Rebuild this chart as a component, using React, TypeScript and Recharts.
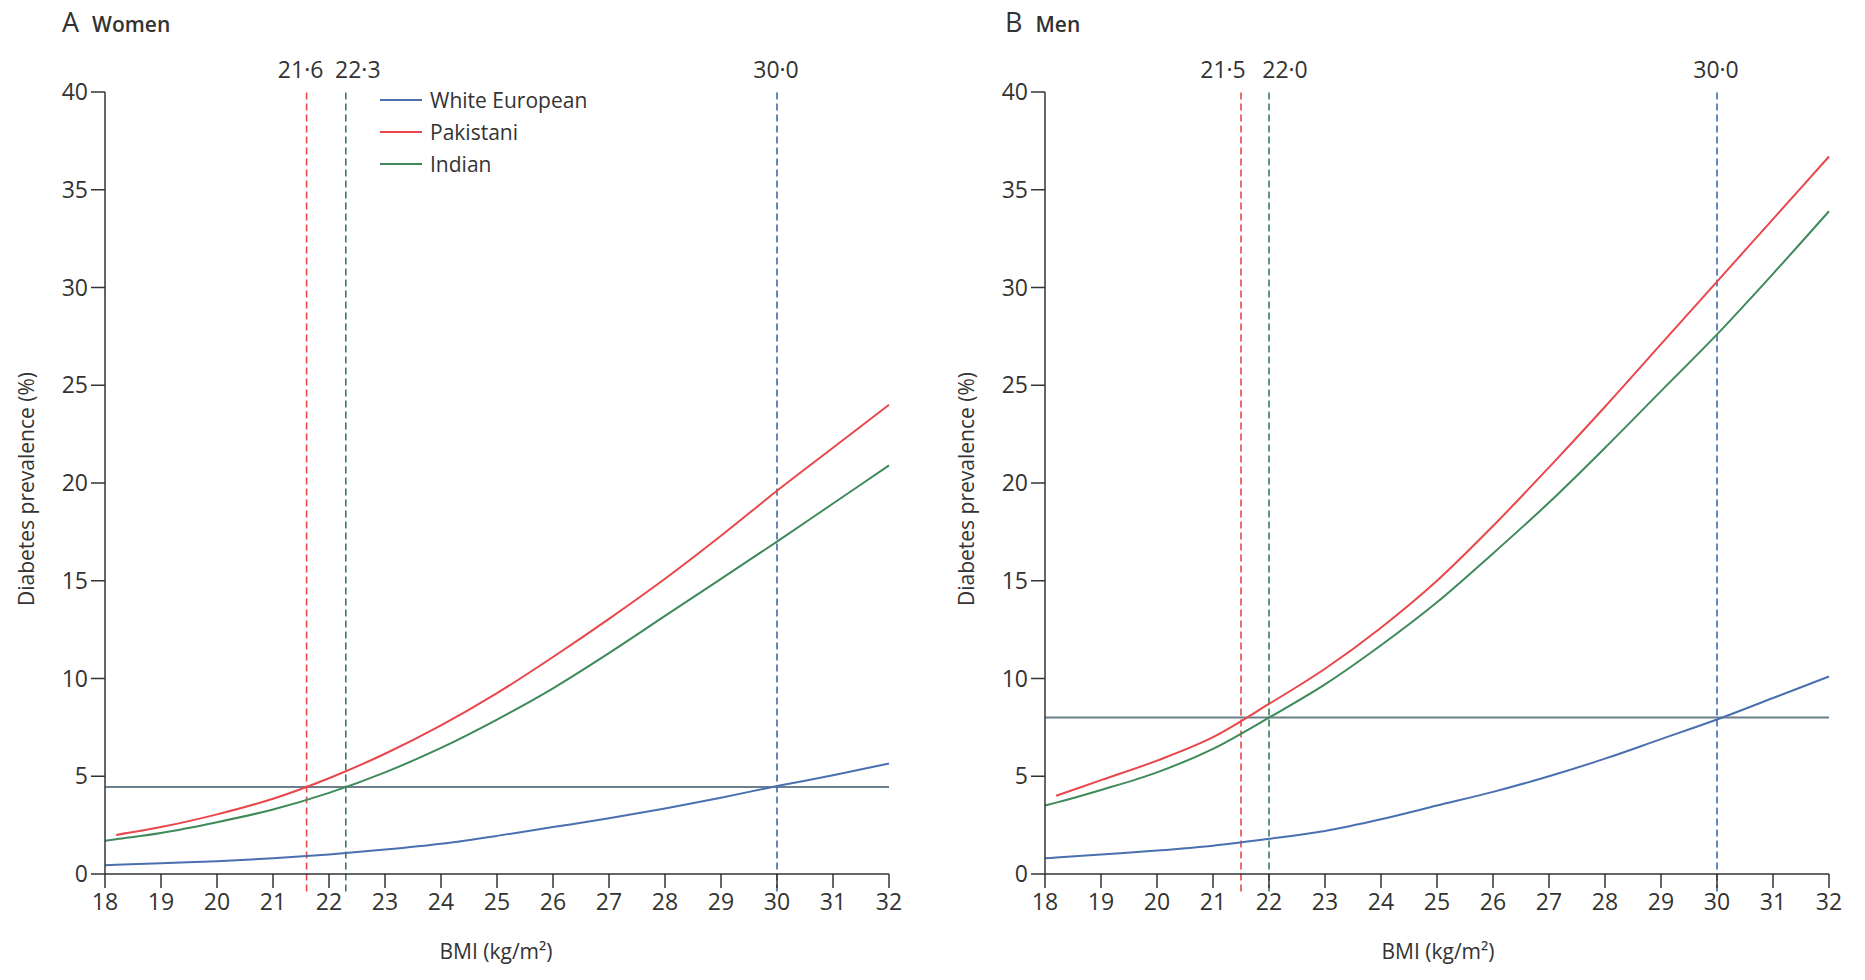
import { LineChart, Line, XAxis, YAxis, ReferenceLine, Legend } from "recharts"

// BMI points shared by both panels
const bmi = [18, 18.2, 19, 20, 21, 22, 23, 24, 25, 26, 27, 28, 29, 30, 31, 32]

const womenWhite = [0.45, 0.47, 0.55, 0.65, 0.8, 1.0, 1.25, 1.55, 1.95, 2.4, 2.85, 3.35, 3.9, 4.5, 5.05, 5.65]
const womenPakistani = [null, 2.0, 2.4, 3.05, 3.85, 4.9, 6.15, 7.6, 9.25, 11.1, 13.05, 15.1, 17.3, 19.6, 21.8, 24.0]
const womenIndian = [1.7, 1.78, 2.1, 2.65, 3.3, 4.15, 5.2, 6.45, 7.9, 9.5, 11.3, 13.2, 15.1, 17.0, 18.95, 20.9]

const menWhite = [0.8, 0.84, 1.0, 1.2, 1.45, 1.8, 2.2, 2.8, 3.5, 4.2, 5.0, 5.9, 6.9, 7.9, 9.0, 10.1]
const menPakistani = [null, 4.0, 4.8, 5.8, 7.0, 8.7, 10.5, 12.6, 15.0, 17.8, 20.8, 23.9, 27.1, 30.3, 33.5, 36.7]
const menIndian = [3.5, 3.65, 4.3, 5.2, 6.4, 8.0, 9.7, 11.7, 13.9, 16.4, 19.0, 21.8, 24.7, 27.6, 30.7, 33.9]

const xTicks = [18, 19, 20, 21, 22, 23, 24, 25, 26, 27, 28, 29, 30, 31, 32]
const yTicks = [0, 5, 10, 15, 20, 25, 30, 35, 40]

// equivalent BMI cut-offs and the matching prevalence level
const womenCuts = { pakistani: 21.6, indian: 22.3, white: 30.0, level: 4.45 }
const menCuts = { pakistani: 21.5, indian: 22.0, white: 30.0, level: 8.0 }

const series = [
  { key: "white", name: "White European", color: "#4a70b0", dash: "#3d6aa8" },
  { key: "pakistani", name: "Pakistani", color: "#e9474b", dash: "#e8474b" },
  { key: "indian", name: "Indian", color: "#3e8a5b", dash: "#3a7d55" },
]

const FONT = "'Open Sans', 'DejaVu Sans', sans-serif"
const INK = "#333"

const toRows = (white: (number | null)[], pak: (number | null)[], ind: (number | null)[]) =>
  bmi.map((b, i) => ({ bmi: b, white: white[i], pakistani: pak[i], indian: ind[i] }))

function CutLabel(props: any) {
  const { viewBox, text, dx } = props
  if (!viewBox) return null
  return (
    <text x={viewBox.x + dx} y={viewBox.y - 14} textAnchor="middle" fontSize={23} fill={INK} fontFamily={FONT}>
      {text}
    </text>
  )
}

function LegendBox() {
  return (
    <div style={{ fontFamily: FONT, fontSize: 21, color: INK, lineHeight: "32px" }}>
      {series.map((s) => (
        <div key={s.key} style={{ display: "flex", alignItems: "center" }}>
          <span style={{ display: "inline-block", width: 42, height: 2, background: s.color, marginRight: 8 }} />
          {s.name}
        </div>
      ))}
    </div>
  )
}

function Panel({ rows, cuts, width, marginRight, labelShift, legend }: any) {
  return (
    <LineChart width={width} height={980} data={rows} margin={{ top: 92, right: marginRight, left: 0, bottom: 16 }}>
      <XAxis
        dataKey="bmi"
        type="number"
        domain={[18, 32]}
        ticks={xTicks}
        interval={0}
        height={90}
        tickSize={14}
        tickMargin={6}
        stroke={INK}
        strokeWidth={1.5}
        tick={{ fill: INK, fontSize: 23, fontFamily: FONT }}
      />
      <YAxis
        type="number"
        domain={[0, 40]}
        ticks={yTicks}
        interval={0}
        width={105}
        tickSize={14}
        tickMargin={3}
        stroke={INK}
        strokeWidth={1.5}
        tick={{ fill: INK, fontSize: 23, fontFamily: FONT }}
      />
      <ReferenceLine y={cuts.level} stroke="#6b7f8c" strokeWidth={2} />
      {series.map((s) => (
        <ReferenceLine
          key={"cut-" + s.key}
          segment={[{ x: cuts[s.key], y: -0.9 }, { x: cuts[s.key], y: 40 }]}
          ifOverflow="visible"
          stroke={s.dash}
          strokeWidth={1.6}
          strokeDasharray="7 4"
          label={<CutLabel text={cuts[s.key].toFixed(1).replace(".", "·")} dx={labelShift[s.key]} />}
        />
      ))}
      {series.map((s) => (
        <Line
          key={s.key}
          type="monotone"
          dataKey={s.key}
          name={s.name}
          stroke={s.color}
          strokeWidth={2}
          dot={false}
          isAnimationActive={false}
        />
      ))}
      {legend && (
        <Legend
          layout="vertical"
          verticalAlign="middle"
          align="center"
          wrapperStyle={{ top: 84, left: 380, width: 260, height: 100 }}
          content={() => <LegendBox />}
        />
      )}
    </LineChart>
  )
}

const txt = { position: "absolute" as const, fontFamily: FONT, color: INK, whiteSpace: "nowrap" as const }

export default function App() {
  return (
    <div style={{ position: "absolute", left: 0, top: 0, width: 1865, height: 980, background: "#fff" }}>
      <div style={{ position: "absolute", left: 0, top: 0 }}>
        <Panel
          rows={toRows(womenWhite, womenPakistani, womenIndian)}
          cuts={womenCuts}
          width={930}
          marginRight={41}
          labelShift={{ pakistani: -6, indian: 12, white: -1 }}
          legend
        />
      </div>
      <div style={{ position: "absolute", left: 940, top: 0 }}>
        <Panel
          rows={toRows(menWhite, menPakistani, menIndian)}
          cuts={menCuts}
          width={925}
          marginRight={36}
          labelShift={{ pakistani: -18, indian: 16, white: -1 }}
          legend={false}
        />
      </div>

      <div style={{ ...txt, left: 62, top: 3, fontSize: 27, fontWeight: 500 }}>
        A <span style={{ fontSize: 21, fontWeight: 600, marginLeft: 6 }}>Women</span>
      </div>
      <div style={{ ...txt, left: 1005, top: 3, fontSize: 27, fontWeight: 500 }}>
        B <span style={{ fontSize: 21, fontWeight: 600, marginLeft: 6 }}>Men</span>
      </div>

      <div style={{ ...txt, left: 26, top: 489, fontSize: 21, transform: "translate(-50%, -50%) rotate(-90deg)" }}>
        Diabetes prevalence (%)
      </div>
      <div style={{ ...txt, left: 966, top: 489, fontSize: 21, transform: "translate(-50%, -50%) rotate(-90deg)" }}>
        Diabetes prevalence (%)
      </div>

      <div style={{ ...txt, left: 496, top: 951, fontSize: 21, transform: "translate(-50%, -50%)" }}>
        BMI (kg/m²)
      </div>
      <div style={{ ...txt, left: 1438, top: 951, fontSize: 21, transform: "translate(-50%, -50%)" }}>
        BMI (kg/m²)
      </div>
    </div>
  )
}
